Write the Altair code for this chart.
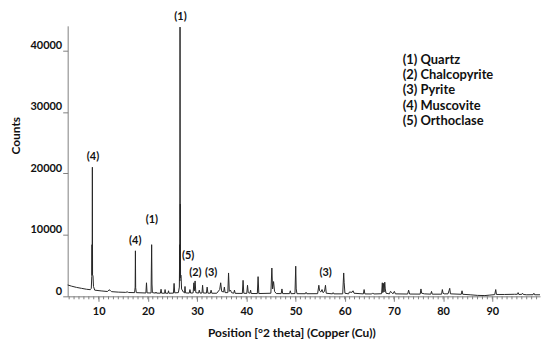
import altair as alt
import pandas as pd

# ---- diffraction pattern (2theta in degrees, counts) ----
two_theta = [
    3.7, 4.5, 5.5, 6.5, 7.5, 8.3,
    8.5, 8.6, 8.65, 8.68, 8.72, 8.76, 8.85, 8.95, 9.2,
    10.5, 11.8, 12.1, 12.3, 12.6, 14.0, 15.5, 15.8, 16.1,
    17.3, 17.42, 17.47, 17.52, 17.65,
    19.6, 19.72, 19.84,
    20.65, 20.77, 20.84, 20.92,
    21.55, 21.65, 21.75,
    22.55, 22.68, 22.8,
    23.4, 23.5, 23.6,
    24.1, 24.2, 24.3,
    25.2, 25.33, 25.46,
    26.2, 26.4, 26.47, 26.5, 26.54, 26.58, 26.6, 26.64, 26.75, 26.85, 27.2,
    27.45, 27.55, 27.65,
    28.4, 28.55, 28.7,
    29.2, 29.35, 29.45, 29.6, 29.75,
    30.3, 30.45, 30.6,
    31.0, 31.12, 31.25,
    31.9, 32.05, 32.2,
    32.7, 32.85, 33.0,
    34.0, 34.6, 34.8, 35.0,
    35.4, 35.55, 35.7,
    36.25, 36.4, 36.55, 36.8, 37.0,
    37.45, 37.6, 37.75,
    39.2, 39.35, 39.5,
    40.1, 40.25, 40.4, 40.75, 40.88, 41.0,
    42.25, 42.4, 42.55,
    45.0, 45.2, 45.35, 45.55, 45.75, 46.1,
    47.1, 47.25, 47.4,
    48.8, 48.95, 49.1,
    49.9, 50.05, 50.15, 50.3,
    52.0, 52.15, 52.3,
    54.5, 54.75, 54.9, 55.15, 55.4, 55.6, 55.9, 56.1, 56.25,
    57.5, 57.65, 57.8,
    59.6, 59.8, 59.9, 60.05,
    60.8, 60.95, 61.5, 61.7, 61.9,
    63.8, 63.95, 64.1,
    65.5, 65.7, 65.9,
    67.5, 67.65, 67.75, 67.9, 68.0, 68.15, 68.25, 68.4,
    69.1, 69.3, 69.6, 69.8, 70.1, 70.3,
    72.8, 73.0, 73.2,
    75.35, 75.5, 75.65, 76.2,
    77.5, 77.65, 77.8,
    79.7, 79.85, 80.0, 80.2,
    81.0, 81.2, 81.35, 81.5,
    83.7, 83.85, 84.0,
    85.5, 87.0, 88.5, 89.5,
    90.5, 90.7, 90.85,
    92.5, 94.5, 95.1, 95.25, 95.4, 96.0, 96.15, 96.3, 97.0,
    98.3, 98.45, 98.6, 99.7,
]
counts = [
    1850, 1650, 1450, 1300, 1150, 1080,
    1300, 3200, 8400, 3500, 21000, 3500, 3300, 1600, 1000,
    880, 780, 1050, 1000, 760, 680, 640, 720, 620,
    600, 1500, 7400, 1400, 600,
    540, 2200, 560,
    540, 8400, 2000, 600,
    520, 700, 520,
    510, 1150, 510,
    500, 1100, 500,
    500, 900, 500,
    520, 2100, 560,
    600, 1500, 8400, 2500, 43800, 3000, 15000, 3300, 3400, 1200, 700,
    560, 1600, 560,
    520, 1100, 520,
    560, 2200, 900, 2500, 600,
    520, 1000, 520,
    540, 1800, 540,
    520, 1500, 520,
    500, 1000, 500,
    500, 1100, 2200, 800,
    700, 1500, 600,
    600, 3800, 800, 1000, 600,
    500, 1000, 480,
    470, 2600, 500,
    470, 1800, 600, 500, 1000, 460,
    450, 3200, 450,
    500, 4600, 1200, 2400, 800, 450,
    440, 1200, 440,
    440, 900, 430,
    450, 4900, 1200, 430,
    420, 650, 420,
    430, 1800, 900, 700, 1100, 600, 800, 1800, 500,
    400, 600, 400,
    400, 3800, 2200, 500,
    400, 700, 650, 900, 500,
    390, 1100, 390,
    380, 550, 380,
    420, 2200, 600, 2100, 700, 2300, 1200, 500,
    400, 800, 600, 400, 800, 400,
    370, 1000, 370,
    360, 1200, 500, 400,
    350, 800, 350,
    350, 1100, 500, 400,
    400, 900, 1300, 400,
    330, 900, 330,
    250, 150, 120, 200,
    280, 1100, 300,
    300, 330, 330, 600, 300, 320, 500, 300, 250,
    260, 500, 250, 250,
]

# ---- peak annotations ----
ann_text = ["(1)", "(4)", "(4)", "(1)", "(5)", "(2)", "(3)", "(3)"]
ann_theta = [26.64, 8.85, 17.44, 20.8, 28.17, 29.65, 32.87, 56.13]
ann_counts = [45500, 22650, 9030, 12430, 6600, 3840, 3840, 3840]

# ---- phase key ----
phases = ["(1) Quartz", "(2) Chalcopyrite", "(3) Pyrite", "(4) Muscovite", "(5) Orthoclase"]

major_ticks = [10, 20, 30, 40, 50, 60, 70, 80, 90]
minor_ticks = list(range(4, 100))
y_ticks = [0, 10000, 20000, 30000, 40000]

FONT = "Lato"
AXIS_GREY = "#7f7f7f"

df = pd.DataFrame({"two_theta": two_theta, "counts": counts})
ann = pd.DataFrame({"label": ann_text, "two_theta": ann_theta, "counts": ann_counts})
minor_df = pd.DataFrame({"two_theta": minor_ticks})

x_scale = alt.Scale(domain=[3.7, 99.7], nice=False, zero=False)
y_scale = alt.Scale(domain=[0, 44000], nice=False)

line = alt.Chart(df).mark_line(color="#262626", strokeWidth=1).encode(
    x=alt.X(
        "two_theta:Q",
        scale=x_scale,
        axis=alt.Axis(
            values=major_ticks,
            format="d",
            title="Position [°2 theta] (Copper (Cu))",
            titleX=225,
            titleY=36,
            titleBaseline="middle",
            titleAlign="center",
            tickSize=5,
            labelPadding=4,
            labelFlush=False,
        ),
    ),
    y=alt.Y(
        "counts:Q",
        scale=y_scale,
        axis=alt.Axis(
            values=y_ticks,
            format="d",
            title="Counts",
            titleX=-52,
            titleY=110,
            titleAngle=270,
            titleBaseline="middle",
            titleAlign="center",
            tickSize=5,
            labelPadding=1,
            labelBaseline="bottom",
        ),
    ),
)

# minor ticks every degree along the x axis
minor = alt.Chart(minor_df).mark_rule(color=AXIS_GREY, strokeWidth=1).encode(
    x=alt.X("two_theta:Q", scale=x_scale),
    y=alt.value(272),
    y2=alt.value(275),
)

labels = alt.Chart(ann).mark_text(
    font=FONT, fontSize=11, fontWeight="bold", color="#111111",
    align="center", baseline="middle",
).encode(
    x=alt.X("two_theta:Q", scale=x_scale),
    y=alt.Y("counts:Q", scale=y_scale),
    text="label:N",
)

key = alt.Chart(pd.DataFrame({"t": ["\n".join(phases)]})).mark_text(
    font=FONT, fontSize=13, fontWeight="bold", color="#111111",
    align="left", baseline="alphabetic", lineBreak="\n", lineHeight=15.5,
).encode(
    x=alt.value(337),
    y=alt.value(38),
    text="t:N",
)

chart = (
    alt.layer(line, minor, labels, key)
    .properties(
        width=475,
        height=272,
        autosize=alt.AutoSizeParams(type="none"),
        padding={"left": 60, "top": 17, "right": 2, "bottom": 44},
        background="white",
    )
    .configure_view(stroke=None)
    .configure_axis(
        grid=False,
        domainColor=AXIS_GREY,
        tickColor=AXIS_GREY,
        labelFont=FONT,
        labelFontSize=11,
        labelFontWeight="bold",
        labelColor="#111111",
        titleFont=FONT,
        titleFontSize=12,
        titleFontWeight="bold",
        titleColor="#111111",
    )
)

chart.save("out.html", embed_options={"renderer": "svg", "actions": False})
